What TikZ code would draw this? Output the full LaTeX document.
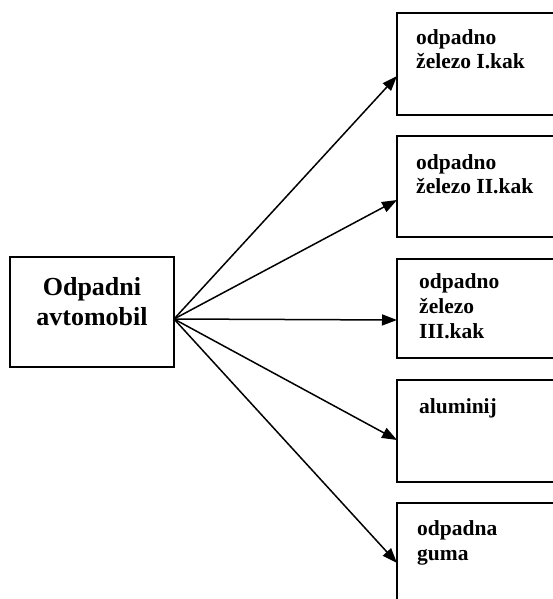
\documentclass[tikz,border=0pt]{standalone}
\usepackage{fontspec}
\setmainfont{Liberation Serif}
\usetikzlibrary{arrows.meta}
\begin{document}
\begin{tikzpicture}[x=1pt,y=-1pt,
  box/.style={draw,line width=2pt,inner sep=0pt},
  bigtxt/.style={font=\bfseries\fontsize{26}{30}\selectfont,align=center,inner sep=0pt},
  smalltxt/.style={font=\bfseries\fontsize{21.5}{25}\selectfont,anchor=base west,inner sep=0pt},
  arr/.style={line width=1.5pt,-{Triangle[length=15pt,width=11pt]}}]
\useasboundingbox (0,0) rectangle (552,599);
% main box
\node[box,minimum width=164pt,minimum height=110pt] (m) at (92,312) {};
\node[bigtxt,anchor=base] (mt) at (92,295) {Odpadni};
\node[bigtxt,anchor=base] (mt2) at (92,325) {avtomobil};
% right boxes
\node[box,minimum width=160pt,minimum height=102pt] (b1) at (477,64) {};
\node[box,minimum width=160pt,minimum height=101pt] (b2) at (477,186.5) {};
\node[box,minimum width=160pt,minimum height=99pt] (b3) at (477,308.5) {};
\node[box,minimum width=160pt,minimum height=102pt] (b4) at (477,431) {};
\node[box,minimum width=160pt,minimum height=104pt] (b5) at (477,555) {};
% texts
\node[smalltxt] (t1a) at (416,45) {odpadno};
\node[smalltxt] (t1b) at (416,69) {železo I.kak};
\node[smalltxt] (t2a) at (416,169) {odpadno};
\node[smalltxt] (t2b) at (416,193) {železo II.kak};
\node[smalltxt] (t3a) at (419,288) {odpadno};
\node[smalltxt] (t3b) at (419,313) {železo};
\node[smalltxt] (t3c) at (419,338) {III.kak};
\node[smalltxt] (t4a) at (419,413) {aluminij};
\node[smalltxt] (t5a) at (417,535) {odpadna};
\node[smalltxt] (t5b) at (417,560) {guma};
% connectors
\coordinate (s) at (174,319);
\coordinate (e1) at (397,76);
\coordinate (e2) at (397,200);
\coordinate (e3) at (397,320);
\coordinate (e4) at (397,440);
\coordinate (e5) at (397,563);
\foreach \e in {e1,e2,e3,e4,e5} \draw[arr] (s) -- (\e);
\end{tikzpicture}
\end{document}
